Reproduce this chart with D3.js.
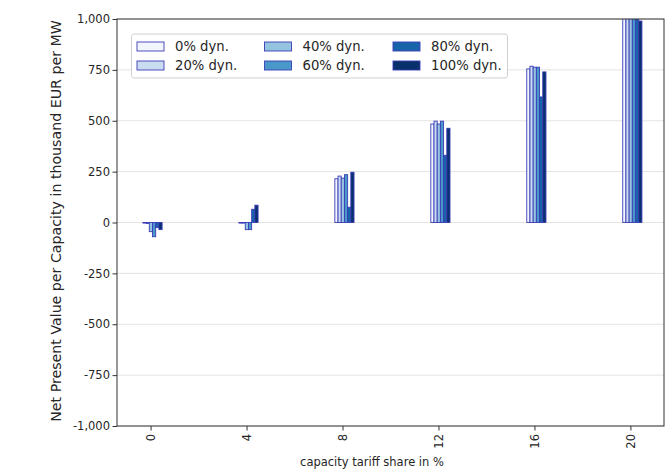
<!DOCTYPE html>
<html><head><meta charset="utf-8">
<script src="https://cdn.jsdelivr.net/npm/d3@7"></script>
<style>body{margin:0;background:#fff}svg{display:block}text{font-family:"DejaVu Sans",sans-serif;fill:#262626}</style>
</head><body><svg id="c" width="666" height="476"></svg>
<script>
const categories = ["0","4","8","12","16","20"];
const seriesNames = ["0% dyn.","20% dyn.","40% dyn.","60% dyn.","80% dyn.","100% dyn."];
const colors = ["#f2f6fc","#cadcf0","#94c4df","#4a98c9","#1764ab","#08306b"];
const v0   = [-3,   -3,  215, 484, 755, 1080];
const v20  = [-5,   -3,  228, 498, 768, 1100];
const v40  = [-45, -35,  218, 484, 763, 1090];
const v60  = [-70, -35,  235, 498, 763, 1090];
const v80  = [-25,  65,   75, 330, 617, 1050];
const v100 = [-35,  85,  247, 463, 740, 990];
const values = [v0, v20, v40, v60, v80, v100];
const yTicks = [-1000,-750,-500,-250,0,250,500,750,1000];

const svg = d3.select("#c");
const L=117, R=664, T=19, B=426;
const x = d3.scaleLinear().domain([-0.35, 5.35]).range([L, R]);
const y = d3.scaleLinear().domain([-1000, 1000]).range([B, T]);
const fmt = v => (v<0?"-":"") + d3.format(",")(Math.abs(v));

// grid
svg.append("g").selectAll("line").data(yTicks).join("line")
  .attr("x1", L).attr("x2", R).attr("y1", d=>y(d)).attr("y2", d=>y(d))
  .attr("stroke", "#e3e3e3").attr("stroke-width", 1);

svg.append("clipPath").attr("id","clip").append("rect").attr("x",L).attr("y",T).attr("width",R-L).attr("height",B-T);

const groupW = 0.2, bw = groupW / seriesNames.length, off = 0.02;
const gb = svg.append("g").attr("clip-path","url(#clip)");
values.forEach((arr, j) => {
  gb.append("g").selectAll("rect").data(arr).join("rect")
    .attr("x", (d,i) => x(i - groupW/2 + off + j*bw))
    .attr("width", x(bw) - x(0))
    .attr("y", d => y(Math.max(0,d)))
    .attr("height", d => Math.abs(y(d) - y(0)))
    .attr("fill", colors[j]).attr("stroke", "#3c3cb8").attr("stroke-width", 0.9);
});

// axes
const ya = svg.append("g").attr("transform",`translate(${L},0)`)
  .call(d3.axisLeft(y).tickValues(yTicks).tickFormat(fmt).tickSize(4.5).tickPadding(2.5));
ya.select(".domain").remove();
ya.selectAll("text").style("font-size","11.5px").attr("fill","#262626");
ya.selectAll("line").attr("stroke","#333");

const xa = svg.append("g").attr("transform",`translate(0,${B})`)
  .call(d3.axisBottom(x).tickValues(d3.range(categories.length)).tickFormat(i=>categories[i]).tickSize(4.5));
xa.select(".domain").remove();
xa.selectAll("line").attr("stroke","#333");
xa.selectAll("text").style("font-size","11.5px").attr("fill","#262626")
  .attr("transform","rotate(-90)").attr("text-anchor","end")
  .attr("x", -8).attr("y", 0).attr("dy","0.35em");

svg.append("rect").attr("x",L).attr("y",T).attr("width",R-L).attr("height",B-T)
  .attr("fill","none").attr("stroke","#333").attr("stroke-width",1);

svg.append("text").attr("x",372).attr("y",466).attr("text-anchor","middle")
  .style("font-size","11.5px").text("capacity tariff share in %");
svg.append("text").attr("transform","translate(61,221) rotate(-90)").attr("text-anchor","middle")
  .style("font-size","14.2px").text("Net Present Value per Capacity in thousand EUR per MW");

// legend
const lg = svg.append("g");
lg.append("rect").attr("x",131.5).attr("y",34).attr("width",376).attr("height",44).attr("rx",2.5)
  .attr("fill","#fff").attr("fill-opacity",0.85).attr("stroke","#d0d0d0").attr("stroke-width",1);
const colX = [137, 264.5, 393], rowY = [42, 61];
seriesNames.forEach((n, j) => {
  const cx = colX[Math.floor(j/2)], cy = rowY[j%2];
  lg.append("rect").attr("x",cx).attr("y",cy).attr("width",27).attr("height",9)
    .attr("fill",colors[j]).attr("stroke","#3c3cb8").attr("stroke-width",0.9);
  lg.append("text").attr("x",cx+38).attr("y",cy+4.5).attr("dy","0.35em")
    .style("font-size","13.2px").text(n);
});
</script></body></html>
